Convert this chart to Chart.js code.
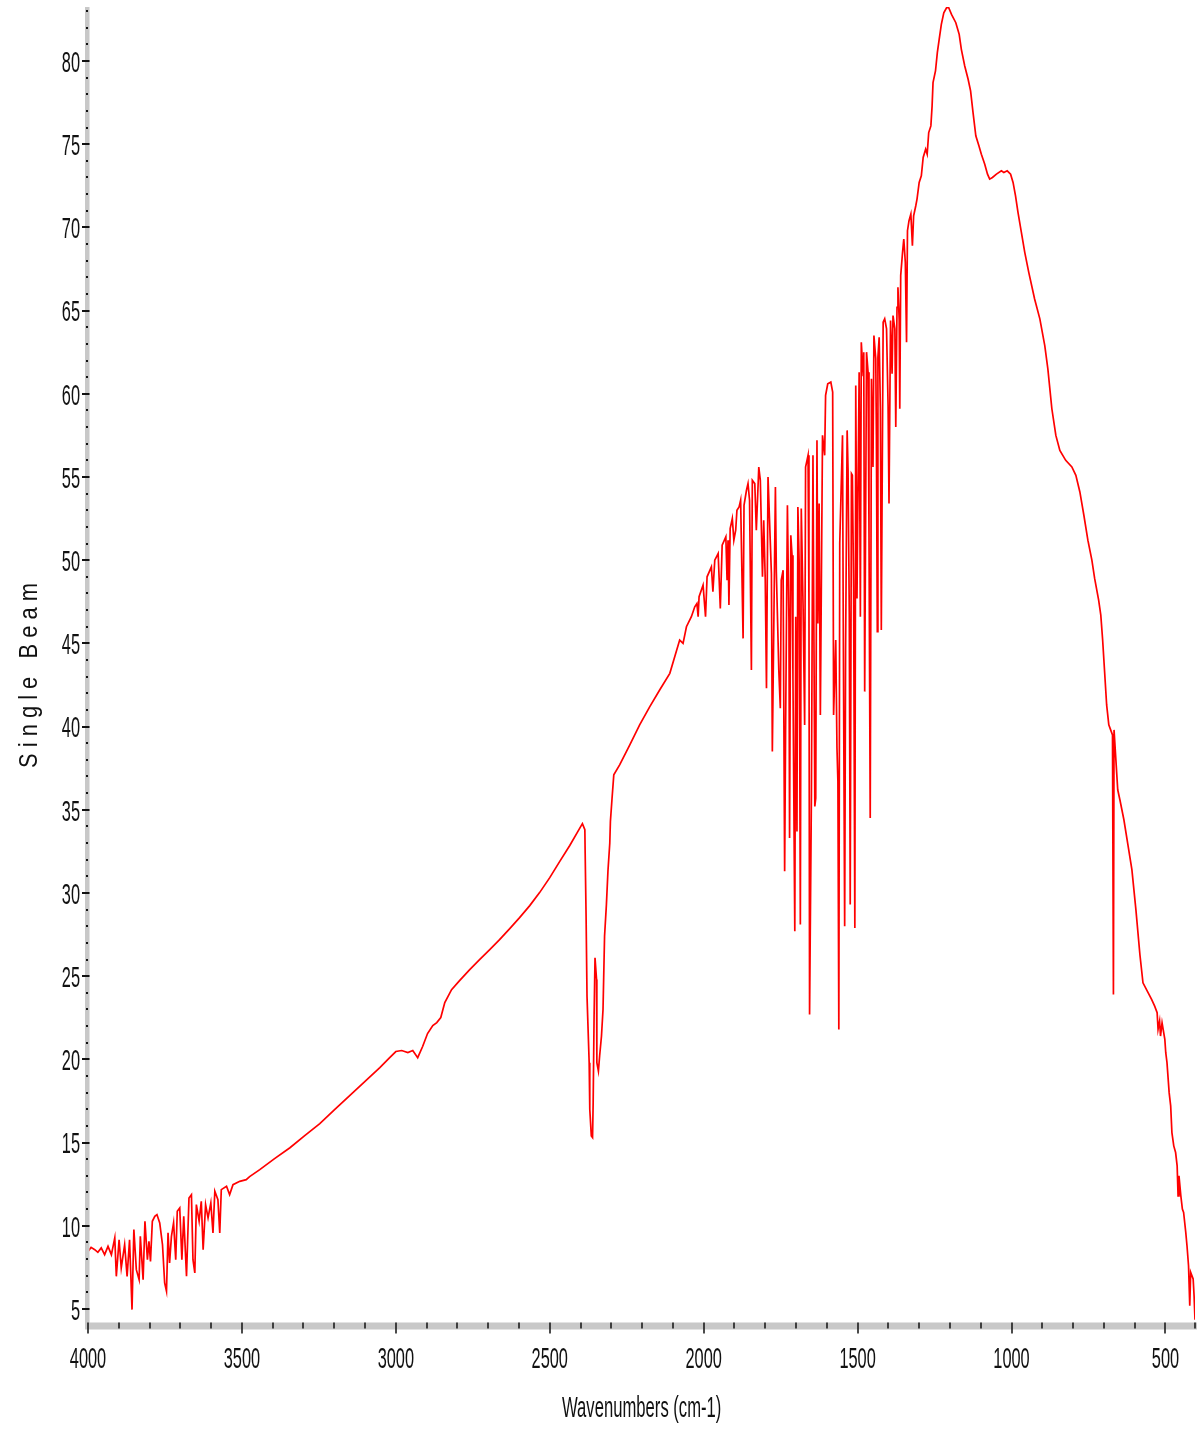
<!DOCTYPE html>
<html>
<head>
<meta charset="utf-8">
<title>Single Beam spectrum</title>
<script src="https://cdn.jsdelivr.net/npm/chart.js@4.4.1/dist/chart.umd.min.js"></script>
<style>
  html, body { margin: 0; padding: 0; background: #ffffff; }
  #wrap { width: 1202px; height: 1434px; }
</style>
</head>
<body>
<div id="wrap"><canvas id="spectrum" width="1202" height="1434"></canvas></div>
<script>
// Wavenumber (cm-1) of each sample, high to low
const wavenumbers = [
  4000, 3990, 3978, 3968, 3957, 3946, 3935, 3924, 3913, 3908, 3899, 3892, 3881, 3873, 3865, 3857,
  3851, 3843, 3834, 3830, 3821, 3815, 3807, 3802, 3797, 3791, 3783, 3776, 3767, 3758, 3751, 3745,
  3740, 3735, 3729, 3722, 3715, 3710, 3702, 3695, 3689, 3680, 3672, 3664, 3659, 3653, 3648, 3639,
  3632, 3626, 3618, 3610, 3601, 3594, 3588, 3578, 3572, 3567, 3550, 3540, 3529, 3507, 3486,
  3475, 3442, 3394, 3344, 3296, 3247, 3199, 3150, 3101, 3052, 3020, 3000, 2981, 2961, 2945, 2929,
  2913, 2897, 2880, 2867, 2854, 2841, 2819, 2793, 2760, 2728, 2695, 2663, 2630, 2598, 2565, 2533,
  2500, 2468, 2435, 2409, 2394, 2386, 2385, 2382, 2379, 2372, 2370, 2365, 2361, 2359, 2356, 2353,
  2348, 2347, 2342, 2338, 2332, 2327, 2322, 2316, 2311, 2305, 2303, 2298, 2292, 2273, 2240, 2208,
  2175, 2143, 2110, 2078, 2067, 2056, 2040, 2029, 2022, 2018, 2015, 2002, 1994, 1989, 1975, 1970,
  1964, 1953, 1946, 1940, 1928, 1924, 1921, 1918, 1914, 1907, 1902, 1896, 1892, 1885, 1880, 1872,
  1869, 1861, 1856, 1851, 1845, 1842, 1834, 1829, 1821, 1816, 1809, 1805, 1800, 1796, 1791, 1780,
  1777, 1767, 1764, 1756, 1751, 1748, 1742, 1737, 1734, 1728, 1723, 1721, 1717, 1713, 1710, 1704,
  1701, 1697, 1694, 1690, 1686, 1683, 1677, 1672, 1669, 1661, 1658, 1656, 1650, 1645, 1639, 1636,
  1632, 1629, 1625, 1621, 1614, 1607, 1604, 1597, 1587, 1581, 1578, 1571, 1567, 1564, 1561, 1558,
  1549, 1547, 1542, 1539, 1534, 1531, 1527, 1524, 1520, 1517, 1513, 1509, 1506, 1502, 1495, 1491,
  1488, 1482, 1480, 1477, 1471, 1466, 1463, 1459, 1455, 1450, 1447, 1441, 1439, 1436, 1434, 1430,
  1426, 1423, 1417, 1412, 1406, 1401, 1398, 1393, 1388, 1385, 1379, 1376, 1372, 1369, 1365, 1363,
  1360, 1354, 1350, 1345, 1341, 1338, 1333, 1327, 1322, 1318, 1311, 1307, 1300, 1293, 1287, 1279,
  1274, 1269, 1262, 1258, 1255, 1247, 1241, 1235, 1228, 1220, 1211, 1204, 1195, 1181, 1170, 1163,
  1152, 1141, 1133, 1125, 1116, 1106, 1098, 1087, 1078, 1071, 1062, 1049, 1033, 1025, 1014, 1003,
  995, 987, 979, 968, 957, 944, 925, 908, 892, 882, 869, 856, 843, 824, 804, 791,
  778, 765, 752, 739, 730, 723, 717, 710, 704, 697, 691, 684, 678, 672, 669, 667,
  661, 655, 648, 635, 622, 609, 596, 583, 573, 556, 545, 535, 527, 524, 519, 516,
  511, 502, 499, 495, 488, 483, 479, 473, 467, 462, 459, 456, 450, 445, 441, 434,
  430, 425, 421, 418, 410, 407, 404
];

// Single beam intensity at each wavenumber
const singleBeam = [
  8.46, 8.70, 8.56, 8.40, 8.67, 8.26, 8.76, 8.26, 9.27, 6.96, 9.16, 7.46, 8.86, 6.96, 9.16, 4.96,
  9.77, 7.36, 6.76, 9.36, 6.76, 10.27, 7.96, 9.06, 7.86, 10.27, 10.57, 10.67, 10.17, 8.86, 6.56, 6.06,
  9.57, 7.76, 9.36, 10.17, 7.96, 10.87, 11.07, 7.96, 10.57, 6.96, 11.67, 11.87, 7.96, 7.16, 11.27, 10.27,
  11.47, 8.56, 11.27, 10.47, 11.37, 9.57, 12.07, 11.57, 9.57, 12.17, 12.37, 11.87, 12.47, 12.67, 12.77,
  12.95, 13.37, 14.03, 14.69, 15.42, 16.14, 16.98, 17.82, 18.66, 19.50, 20.10, 20.47, 20.53, 20.41, 20.53, 20.10,
  20.77, 21.55, 22.03, 22.21, 22.51, 23.41, 24.19, 24.73, 25.39, 25.99, 26.60, 27.20, 27.86, 28.52, 29.24, 30.02,
  30.92, 31.88, 32.85, 33.69, 34.17, 33.8, 32.4, 28.6, 23.8, 19.8, 17.0, 15.4, 15.3, 17.4, 22.6, 26.1,
  24.8, 19.8, 19.3, 20.2, 21.4, 23.0, 27.4, 29.3, 31.3, 33.0, 34.3, 35.6, 37.1, 37.7, 38.9, 40.1,
  41.2, 42.2, 43.2, 45.2, 45.0, 46.0, 46.6, 47.2, 47.4, 46.6, 47.8, 48.5, 46.6, 49.0, 49.6, 48.1,
  50.0, 50.4, 47.1, 50.9, 51.4, 48.8, 51.2, 47.3, 51.9, 52.5, 51.2, 51.8, 53.0, 53.2, 53.6, 45.3,
  53.3, 54.2, 54.6, 53.6, 43.4, 54.8, 54.6, 51.8, 55.6, 54.8, 49.0, 52.4, 48.8, 42.3, 55.0, 49.2,
  38.5, 54.4, 49.3, 43.4, 41.1, 48.8, 49.4, 31.3, 39.6, 53.3, 46.3, 33.3, 51.5, 50.3, 42.9, 27.7,
  46.6, 33.7, 53.2, 50.0, 28.1, 53.1, 47.1, 40.1, 55.6, 56.3, 47.3, 22.7, 36.0, 56.3, 35.2, 35.7,
  57.2, 46.2, 53.4, 40.7, 57.5, 56.3, 59.9, 60.6, 60.7, 60.1, 40.7, 45.2, 38.7, 36.7, 21.8, 51.0,
  57.5, 48.0, 28.0, 44.6, 57.8, 55.4, 46.8, 29.3, 55.2, 55.1, 48.4, 27.9, 60.5, 47.7, 61.3, 46.6,
  63.1, 61.1, 62.5, 42.1, 62.5, 61.3, 51.6, 34.5, 60.9, 55.6, 63.5, 62.1, 57.5, 45.7, 62.2, 63.4,
  59.1, 45.8, 64.3, 64.5, 63.9, 59.3, 53.4, 64.4, 61.2, 64.7, 63.9, 58.0, 65.2, 66.4, 64.5, 59.1,
  67.1, 68.5, 69.3, 67.9, 63.1, 69.8, 70.4, 70.8, 68.9, 70.7, 71.3, 71.7, 72.7, 73.1, 74.2, 74.7,
  74.4, 75.7, 76.1, 77.3, 78.7, 79.4, 80.5, 81.3, 82.2, 82.9, 83.2, 83.2, 82.8, 82.3, 81.6, 80.7,
  79.7, 78.9, 78.2, 76.9, 75.5, 74.9, 74.4, 73.8, 73.2, 72.9, 73.0, 73.2, 73.4, 73.3, 73.4, 73.2,
  72.7, 71.9, 70.9, 69.7, 68.5, 67.3, 65.7, 64.5, 62.9, 61.5, 59.1, 57.5, 56.6, 56.0, 55.6, 55.1,
  54.1, 52.7, 51.2, 50.0, 48.9, 48.2, 47.6, 46.7, 45.2, 43.1, 41.3, 40.1, 39.8, 39.5, 23.9, 39.8,
  38.0, 36.2, 35.6, 34.4, 32.9, 31.4, 29.0, 26.3, 24.6, 24.0, 23.6, 23.2, 22.8, 21.8, 22.3, 21.4,
  22.2, 21.2, 20.4, 19.8, 18.0, 17.2, 15.6, 14.8, 14.4, 13.6, 11.8, 13.0, 11.8, 11.0, 10.8, 9.6,
  8.8, 7.6, 5.2, 7.2, 6.8, 5.8, 4.35
];

// Labelled ticks on each axis
const xTickLabels = [4000, 3500, 3000, 2500, 2000, 1500, 1000, 500];
const yTickLabels = [5, 10, 15, 20, 25, 30, 35, 40, 45, 50, 55, 60, 65, 70, 75, 80];

const X_MIN = 404, X_MAX = 4000;
const Y_MIN = 4.215, Y_MAX = 83.245;

const LABEL_FONT = '30px "Liberation Sans", Arial, Helvetica, sans-serif';
const SQUEEZE = 0.545;

// Narrow, tall lettering like the instrument software's plot
function narrowText(ctx, text, x, y, align, squeeze) {
  ctx.save();
  ctx.translate(x, y);
  ctx.scale(squeeze, 1);
  ctx.textAlign = align;
  ctx.textBaseline = 'alphabetic';
  ctx.fillText(text, 0, 0);
  ctx.restore();
}

// Grey axis rails with tick marks, tick labels and axis titles
const axisRails = {
  id: 'axisRails',
  afterDraw(chart) {
    const { ctx, chartArea: a } = chart;
    const xs = chart.scales.x, ys = chart.scales.y;
    ctx.save();

    // rails
    ctx.fillStyle = '#c8c8c8';
    ctx.fillRect(a.left - 3, a.top, 4.5, a.bottom - a.top + 7);
    ctx.fillRect(a.left - 3, a.bottom + 0.5, a.right - a.left + 5, 7);

    ctx.fillStyle = '#111111';
    ctx.font = LABEL_FONT;

    // y ticks: one per unit, longer every five
    for (let v = Math.ceil(Y_MIN); v <= Math.floor(Y_MAX); v++) {
      const py = Math.round(ys.getPixelForValue(v));
      if (yTickLabels.includes(v)) {
        ctx.fillRect(a.left - 6, py - 1, 7.5, 2);
      } else {
        ctx.fillRect(a.left - 2, py - 1, 2, 2);
      }
    }
    yTickLabels.forEach(v => {
      const py = ys.getPixelForValue(v);
      narrowText(ctx, String(v), a.left - 8, py + 10.8, 'right', SQUEEZE);
    });

    // x ticks: every 100 cm-1, longer every 500, plus the end of the range
    const minorX = [];
    for (let w = X_MAX; w >= 500; w -= 100) minorX.push(w);
    minorX.push(X_MIN);
    minorX.forEach(w => {
      const px = Math.round(xs.getPixelForValue(w));
      const major = xTickLabels.includes(w);
      ctx.fillRect(px - 0.75, a.bottom + 0.5, 1.5, major ? 11 : 6);
    });
    xTickLabels.forEach(w => {
      const px = xs.getPixelForValue(w);
      narrowText(ctx, String(w), px, a.bottom + 46.3, 'center', SQUEEZE);
    });

    // axis titles
    narrowText(ctx, 'Wavenumbers (cm-1)', 641.7, a.bottom + 95, 'center', 0.555);

    const yTitle = 'S i n g l e   B e a m';
    ctx.font = '26px "Liberation Sans", Arial, Helvetica, sans-serif';
    const w = ctx.measureText(yTitle).width;
    ctx.save();
    ctx.translate(36.5, 675.5);
    ctx.rotate(-Math.PI / 2);
    ctx.scale(185 / w, 1);
    ctx.textAlign = 'center';
    ctx.textBaseline = 'alphabetic';
    ctx.fillText(yTitle, 0, 0);
    ctx.restore();

    ctx.restore();
  }
};

const points = wavenumbers.map((w, i) => ({ x: w, y: singleBeam[i] }));

new Chart(document.getElementById('spectrum'), {
  type: 'line',
  data: {
    datasets: [{
      data: points,
      borderColor: '#ff0000',
      borderWidth: 1.7,
      pointRadius: 0,
      tension: 0,
      fill: false
    }]
  },
  options: {
    responsive: false,
    animation: false,
    devicePixelRatio: 1,
    layout: { padding: { left: 88, top: 7, right: 7, bottom: 112 } },
    plugins: { legend: { display: false }, tooltip: { enabled: false } },
    scales: {
      x: { type: 'linear', reverse: true, min: X_MIN, max: X_MAX, display: false },
      y: { type: 'linear', min: Y_MIN, max: Y_MAX, display: false }
    }
  },
  plugins: [axisRails]
});
</script>
</body>
</html>
